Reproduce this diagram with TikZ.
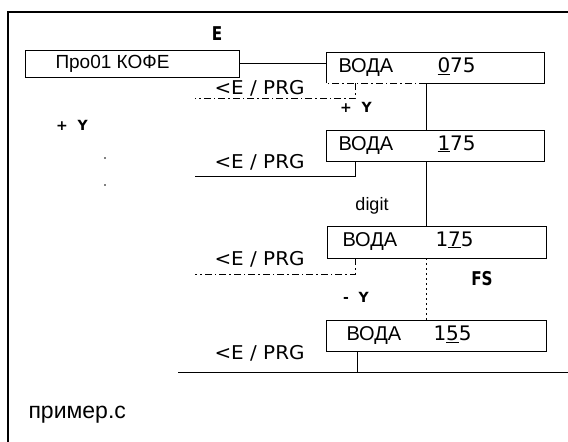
\documentclass[tikz,border=0pt]{standalone}
\usepackage{fontspec}
\setmainfont{Liberation Sans}
\newfontfamily\dv{DejaVu Sans}
\begin{document}
\begin{tikzpicture}[x=1pt,y=-1pt,
  line width=1pt,
  vbox/.style={draw=none,anchor=north west,minimum height=30pt,inner sep=0pt},
  vtxt/.style={anchor=west,inner sep=0pt,font=\fontsize{20}{22}\selectfont},
  dtxt/.style={anchor=west,inner sep=0pt,font=\dv\fontsize{20}{22}\selectfont},
  prg/.style={anchor=west,inner sep=0pt,font=\dv\fontsize{19}{21}\selectfont,xscale=1.05},
  boldlbl/.style={anchor=center,inner sep=0pt,font=\dv\bfseries\fontsize{19}{21}\selectfont,xscale=0.8},
  keymark/.style={anchor=center,inner sep=0pt,font=\dv\bfseries\fontsize{14}{16}\selectfont},
  dashdotline/.style={dash pattern=on 7pt off 3pt on 1.5pt off 3pt},
]
\useasboundingbox (0,0) rectangle (568,442);
\clip (0,0) rectangle (568,442);
\fill[white] (0,0) rectangle (568,442);
% outer frame (open to right and bottom)
\draw[line width=1.6pt] (8,450) -- (8,12) -- (575,12);

% coordinates for spines
\coordinate (sx) at (426,0);
\coordinate (lx) at (355,0);
\coordinate (e1) at (195,98);
\coordinate (e2) at (195,176);
\coordinate (e3) at (195,274);
\coordinate (e4) at (178,372);
\coordinate (e5) at (575,372);

% top program box
\node[draw,anchor=north west,minimum width=214pt,minimum height=27pt,inner sep=0pt] (prog) at (25,50) {};
\node[vtxt,font=\fontsize{19}{21}\selectfont] (progt) at ([xshift=30pt]prog.west) {Про01 КОФЕ};
\node[boldlbl] (ttlE) at (217,34) {E};

% boxes
\node[vbox,minimum width=217pt] (b1) at (326,52) {};
\node[vbox,minimum width=217pt] (b2) at (326,130) {};
\node[vbox,minimum width=218pt,minimum height=31pt] (b3) at (327,226) {};
\node[vbox,minimum width=219pt] (b4) at (326,320) {};

\draw (b1.south west) -- (b1.north west) -- (b1.north east) -- (b1.south east) -- (b1.south -| sx);
\draw[dashdotline] (b1.south -| sx) -- (b1.south west);
\draw (b2.south west) rectangle (b2.north east);
\draw (b3.south west) rectangle (b3.north east);
\draw (b4.south west) rectangle (b4.north east);

\node[vtxt] (t1a) at ([xshift=12pt]b1.west) {ВОДА};
\node[dtxt] (t1b) at (437,66) {\underline{0}75};
\node[vtxt] (t2a) at ([xshift=12pt]b2.west) {ВОДА};
\node[dtxt] (t2b) at (437,144) {\underline{1}75};
\node[vtxt] (t3a) at ([xshift=15pt]b3.west) {ВОДА};
\node[dtxt] (t3b) at (435,240) {1\underline{7}5};
\node[vtxt] (t4a) at ([xshift=20pt]b4.west) {ВОДА};
\node[dtxt] (t4b) at (433,334) {1\underline{5}5};

% connector from program box to first box
\draw (prog.east |- 0,63) -- (b1.west |- 0,63);

% spine between boxes
\draw (b1.south -| sx) -- (b2.north -| sx);
\draw (b2.south -| sx) -- (b3.north -| sx);
\draw[dash pattern=on 2pt off 3pt] (b3.south -| sx) -- (b4.north -| sx);

% left legs
\draw[dashdotline] (b1.south -| lx) |- (e1);
\draw (b2.south -| lx) |- (e2);
\draw[dashdotline] (b3.south -| lx) |- (e3);
\draw (b4.south -| 357,0) -- (357,372);
\draw (e4) -- (e5);

% PRG labels
\node[prg] (p1) at (214,88) {<E / PRG};
\node[prg] (p2) at (214,162) {<E / PRG};
\node[prg] (p3) at (214,259) {<E / PRG};
\node[prg] (p4) at (214,353) {<E / PRG};

% other labels
\node[anchor=center,inner sep=0pt,font=\fontsize{18}{20}\selectfont] (dg) at (372,206) {digit};
\node[boldlbl] (fs) at (482,279) {FS};
\node[keymark] (m1) at (72,125) {+ \ Y};
\node[keymark] (m2) at (356,107) {+ \ Y};
\node[keymark] (m3) at (356,297) {- \ Y};
\fill (105,158) circle (0.8pt);
\fill (105,185) circle (0.8pt);
\node[anchor=west,inner sep=0pt,font=\fontsize{23}{26}\selectfont] (ex) at (28,415) {пример.с};
\end{tikzpicture}
\end{document}
